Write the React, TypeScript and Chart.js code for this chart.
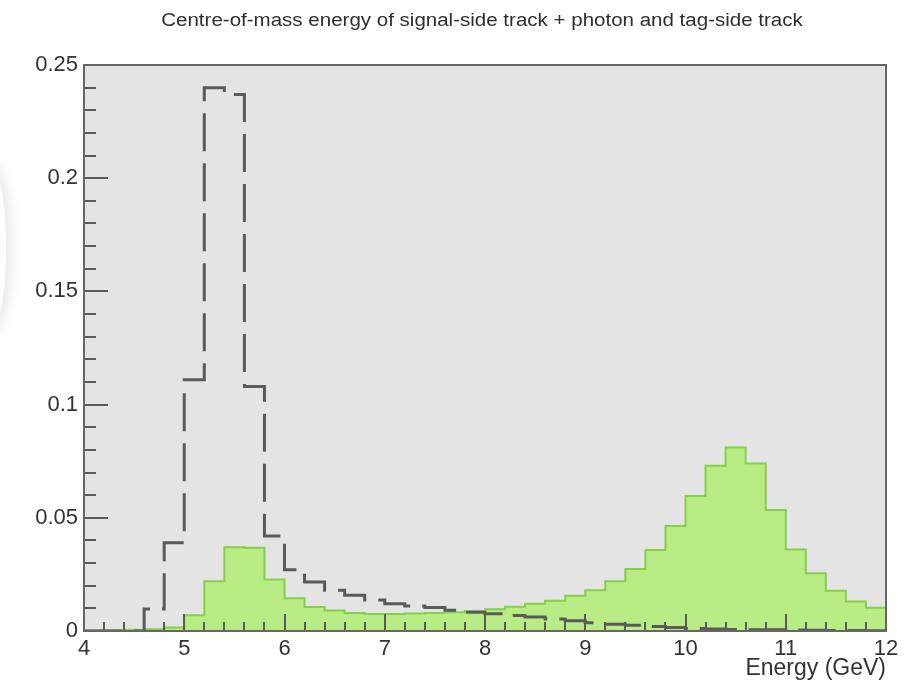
import { useEffect, useRef } from "react";
import { Chart, registerables } from "chart.js";

Chart.register(...registerables);

// Histogram bin edges (GeV), 0.2 GeV bins from 4 to 12
const binEdges = [
  4.0, 4.2, 4.4, 4.6, 4.8, 5.0, 5.2, 5.4, 5.6, 5.8,
  6.0, 6.2, 6.4, 6.6, 6.8, 7.0, 7.2, 7.4, 7.6, 7.8,
  8.0, 8.2, 8.4, 8.6, 8.8, 9.0, 9.2, 9.4, 9.6, 9.8,
  10.0, 10.2, 10.4, 10.6, 10.8, 11.0, 11.2, 11.4, 11.6, 11.8,
  12.0,
];

// Signal sample (dashed outline), normalised bin contents
const signalValues = [
  0, 0, 0, 0.0097, 0.039, 0.111, 0.240, 0.237, 0.108, 0.042,
  0.027, 0.0216, 0.018, 0.0158, 0.0137, 0.012, 0.011, 0.0104, 0.0092, 0.0083,
  0.0076, 0.0068, 0.0062, 0.0053, 0.0045, 0.0036, 0.003, 0.0025, 0.002, 0.0015,
  0.0011, 0.0009, 0.0007, 0.0006, 0.0005, 0.0004, 0.0003, 0.0002, 0.0002, 0.0001,
];

// Background sample (filled green), normalised bin contents
const backgroundValues = [
  0.0002, 0.0003, 0.0005, 0.0008, 0.0016, 0.007, 0.022, 0.037, 0.0368, 0.0228,
  0.0145, 0.0106, 0.009, 0.008, 0.0075, 0.0075, 0.0077, 0.0079, 0.0083, 0.0088,
  0.0096, 0.0107, 0.012, 0.0134, 0.0156, 0.018, 0.022, 0.0274, 0.0358, 0.0464,
  0.0596, 0.073, 0.081, 0.074, 0.0534, 0.036, 0.0255, 0.0178, 0.013, 0.0103,
];

const xTickValues = [4, 5, 6, 7, 8, 9, 10, 11, 12];
const yTickValues = [0, 0.05, 0.1, 0.15, 0.2, 0.25];

const chartTitle = "Centre-of-mass energy of signal-side track + photon and tag-side track";
const xAxisTitle = "Energy (GeV)";

const FONT = "'Liberation Sans', Arial, Helvetica, sans-serif";

// Turn bin contents into a closed step outline (both corners of each bin)
function histogramOutline(values: number[]) {
  const pts: { x: number; y: number }[] = [{ x: binEdges[0], y: 0 }];
  values.forEach((v, i) => {
    pts.push({ x: binEdges[i], y: v });
    pts.push({ x: binEdges[i + 1], y: v });
  });
  pts.push({ x: binEdges[binEdges.length - 1], y: 0 });
  return pts;
}

// Grey pad, frame and inward-pointing ticks in the style of a ROOT canvas
const framePlugin = {
  id: "rootFrame",
  beforeDatasetsDraw(chart: any) {
    const { ctx, chartArea } = chart;
    const { left, right, top, bottom } = chartArea;
    ctx.save();
    ctx.fillStyle = "#e4e4e4";
    ctx.fillRect(left, top, right - left, bottom - top);
    ctx.restore();
  },
  afterDatasetsDraw(chart: any) {
    const { ctx, chartArea, scales } = chart;
    const { left, right, top, bottom } = chartArea;
    const xs = scales.x;
    const ys = scales.y;
    ctx.save();
    ctx.strokeStyle = "#5a5a5a";
    ctx.lineWidth = 2;
    ctx.beginPath();
    // x-axis ticks: majors at integers, 5 subdivisions
    const xMinor = 0.2;
    const xFirst = xTickValues[0];
    const xLast = xTickValues[xTickValues.length - 1];
    for (let k = 0; xFirst + k * xMinor <= xLast + 1e-9; k++) {
      const v = xFirst + k * xMinor;
      const px = Math.round(xs.getPixelForValue(v));
      const major = k % 5 === 0;
      const len = major ? 17 : 9;
      ctx.moveTo(px, bottom);
      ctx.lineTo(px, bottom - len);
    }
    // y-axis ticks: majors every 0.05, 5 subdivisions
    const yMinor = 0.01;
    const yFirst = yTickValues[0];
    const yLast = yTickValues[yTickValues.length - 1];
    for (let k = 0; yFirst + k * yMinor <= yLast + 1e-9; k++) {
      const v = yFirst + k * yMinor;
      const py = Math.round(ys.getPixelForValue(v));
      const major = k % 5 === 0;
      const len = major ? 24 : 12;
      ctx.moveTo(left, py);
      ctx.lineTo(left + len, py);
    }
    ctx.stroke();

    ctx.strokeStyle = "#666666";
    ctx.lineWidth = 2;
    ctx.strokeRect(left, top, right - left, bottom - top);
    ctx.restore();
  },
  afterDraw(chart: any) {
    const { ctx } = chart;
    ctx.save();
    ctx.fillStyle = "#2e2e2e";
    ctx.font = `18px ${FONT}`;
    ctx.textAlign = "center";
    ctx.textBaseline = "middle";
    // slightly widened title text
    ctx.translate(482, 21);
    ctx.scale(1.14, 1);
    ctx.fillText(chartTitle, 0, 0);
    ctx.restore();
  },
};

export default function App() {
  const canvasRef = useRef<HTMLCanvasElement | null>(null);

  useEffect(() => {
    if (!canvasRef.current) return;
    const chart = new Chart(canvasRef.current, {
      type: "line",
      data: {
        datasets: [
          {
            label: "signal",
            data: histogramOutline(signalValues),
            borderColor: "#5a5a5a",
            borderWidth: 3,
            borderDash: [38, 12],
            borderCapStyle: "butt",
            borderJoinStyle: "miter",
            pointRadius: 0,
            tension: 0,
            fill: false,
            order: 0,
          },
          {
            label: "background",
            data: histogramOutline(backgroundValues),
            borderColor: "#84d048",
            backgroundColor: "#b9ec84",
            borderWidth: 2,
            borderJoinStyle: "miter",
            pointRadius: 0,
            tension: 0,
            fill: "origin",
            order: 1,
          },
        ],
      },
      options: {
        animation: false,
        responsive: false,
        devicePixelRatio: 1,
        events: [],
        layout: { padding: { top: 65, right: 20, left: 0, bottom: 0 } },
        plugins: {
          legend: { display: false },
          title: { display: false },
          tooltip: { enabled: false },
        },
        scales: {
          x: {
            type: "linear",
            min: 4,
            max: 12,
            grid: { display: false, drawTicks: false },
            border: { display: false },
            afterBuildTicks: (s: any) => {
              s.ticks = xTickValues.map((v) => ({ value: v }));
            },
            afterFit: (s: any) => {
              s.height = 53;
            },
            ticks: {
              padding: 5,
              color: "#333333",
              font: { family: FONT, size: 22 },
              maxRotation: 0,
              autoSkip: false,
              callback: (v: any) => String(v),
            },
            title: {
              display: true,
              text: xAxisTitle,
              align: "end",
              color: "#333333",
              font: { family: FONT, size: 23 },
              padding: { top: 0, bottom: 2 },
            },
          },
          y: {
            type: "linear",
            min: 0,
            max: 0.25,
            grid: { display: false, drawTicks: false },
            border: { display: false },
            afterBuildTicks: (s: any) => {
              s.ticks = yTickValues.map((v) => ({ value: v }));
            },
            afterFit: (s: any) => {
              s.width = 84;
            },
            ticks: {
              padding: 6,
              color: "#333333",
              font: { family: FONT, size: 22 },
              autoSkip: false,
              callback: (v: any) => String(Number(Number(v).toFixed(3))),
            },
          },
        },
      },
      plugins: [framePlugin],
    });
    return () => chart.destroy();
  }, []);

  return (
    <div style={{ position: "fixed", left: 0, top: 0, width: 906, height: 684, background: "#ffffff", overflow: "hidden" }}>
      <div
        style={{
          position: "absolute",
          left: -22,
          top: 168,
          width: 28,
          height: 160,
          borderRadius: "50%",
          background: "#ffffff",
          boxShadow: "0 0 14px 5px rgba(0,0,0,0.10)",
        }}
      />
      <canvas ref={canvasRef} width={906} height={684} style={{ position: "absolute", left: 0, top: 0, width: 906, height: 684 }} />
    </div>
  );
}
